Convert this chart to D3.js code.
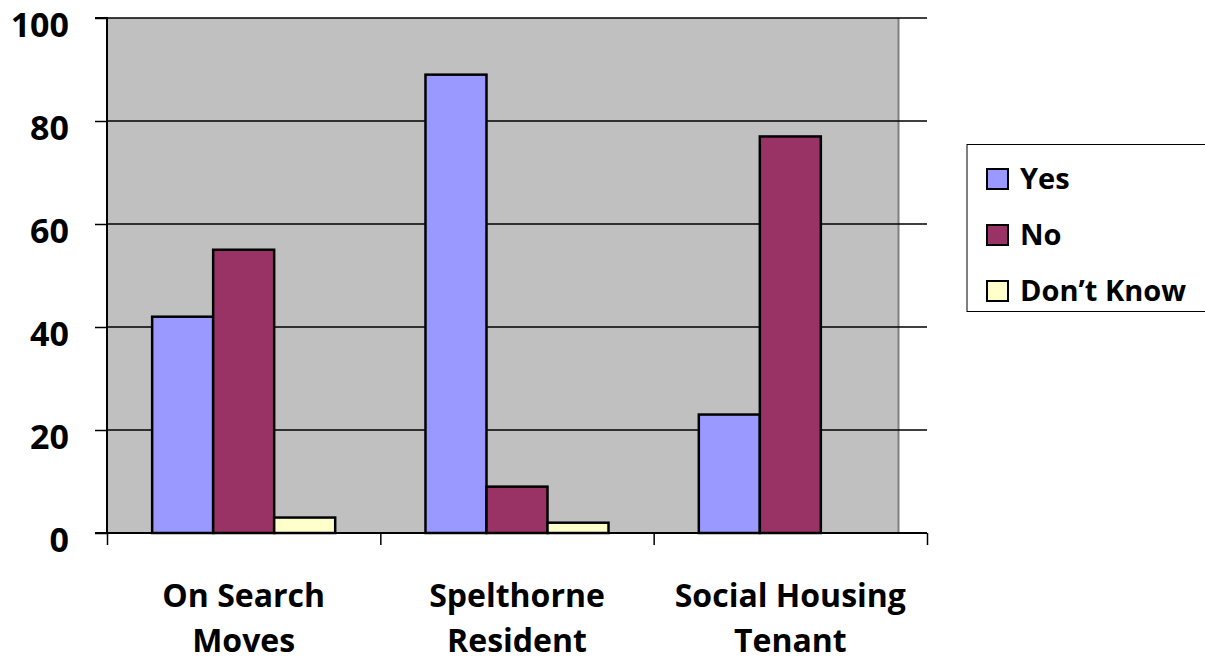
<!DOCTYPE html>
<html><head><meta charset="utf-8">
<script src="https://cdn.jsdelivr.net/npm/d3@7"></script>
<style>body{margin:0;background:#fff}svg{display:block}</style>
</head><body>
<svg id="c" width="1205" height="660"></svg>
<script>
const categories = [["On Search","Moves"],["Spelthorne","Resident"],["Social Housing","Tenant"]];
const seriesNames = ["Yes","No","Don\u2019t Know"];
const seriesColors = ["#9999FF","#993366","#FFFFCC"];
const yesValues = [42, 89, 23];
const noValues = [55, 9, 77];
const dkValues = [3, 2, 0];
const yTicks = [0,20,40,60,80,100];

const series = [yesValues, noValues, dkValues];
const svg = d3.select("#c");
const font = "'Open Sans', sans-serif";
const x0 = 107, x1 = 927, yTop = 18, yBot = 533;
const x = d3.scaleBand().domain(d3.range(categories.length)).range([x0, x1]).paddingInner(0).paddingOuter(0);
const xs = d3.scaleBand().domain(d3.range(series.length)).range([0, x.bandwidth()]).paddingOuter(0.74).paddingInner(0);
const y = d3.scaleLinear().domain([0,100]).range([yBot, yTop]);

// plot area
svg.append("rect").attr("x", x0).attr("y", yTop).attr("width", 899 - x0).attr("height", yBot - yTop).attr("fill", "#C0C0C0");
svg.append("line").attr("x1", 898.5).attr("x2", 898.5).attr("y1", yTop).attr("y2", yBot).attr("stroke", "#808080").attr("stroke-width", 2);

// gridlines
svg.append("g").selectAll("line").data(yTicks.filter(d => d > 0)).join("line")
  .attr("x1", x0).attr("x2", x1).attr("y1", d => y(d)).attr("y2", d => y(d))
  .attr("stroke", "#000").attr("stroke-width", 1.3);

// bars
series.forEach((vals, si) => {
  svg.append("g").selectAll("rect").data(vals).join("rect")
    .attr("x", (d, i) => x(i) + xs(si))
    .attr("y", d => y(d))
    .attr("width", xs.bandwidth())
    .attr("height", d => yBot - y(d))
    .attr("fill", seriesColors[si])
    .attr("stroke", "#000").attr("stroke-width", 2.5);
});

// y axis
const yAxis = d3.axisLeft(y).tickValues(yTicks).tickSize(12).tickPadding(25).tickFormat(d3.format("d"));
const gy = svg.append("g").attr("transform", `translate(${x0},0)`).call(yAxis);
gy.select(".domain").attr("stroke", "#000").attr("stroke-width", 2).attr("d", `M-12,${yTop}H0V${yBot}H-12`);
gy.selectAll(".tick line").attr("stroke", "#000").attr("stroke-width", 1.5);
gy.selectAll(".tick text").attr("font-family", font).attr("font-weight", "bold").attr("font-size", 34).attr("fill", "#000").attr("dy", "0.53em").attr("dx", -1);

// x axis
const xAxis = d3.axisBottom(d3.scaleLinear().domain([0,3]).range([x0,x1])).tickValues([0,1,2,3]).tickSize(12).tickFormat("");
const gx = svg.append("g").attr("transform", `translate(0,${yBot})`).call(xAxis);
gx.select(".domain").attr("stroke", "#000").attr("stroke-width", 2).attr("d", `M${x0},0H${x1}`);
gx.selectAll(".tick line").attr("stroke", "#000").attr("stroke-width", 1.5);

// category labels
const lab = svg.append("g").selectAll("text").data(categories).join("text")
  .attr("x", (d, i) => x(i) + x.bandwidth() / 2)
  .attr("y", 607)
  .attr("text-anchor", "middle")
  .attr("font-family", font).attr("font-weight", "bold").attr("font-size", 32).attr("fill", "#000");
lab.selectAll("tspan").data(d => d).join("tspan")
  .attr("x", function() { return d3.select(this.parentNode).attr("x"); })
  .attr("dy", (d, i) => i === 0 ? 0 : 45)
  .text(d => d);

// legend
const lg = svg.append("g");
lg.append("rect").attr("x", 967).attr("y", 144.5).attr("width", 250).attr("height", 167).attr("fill", "#fff").attr("stroke", "#000").attr("stroke-width", 1);
const items = lg.selectAll("g.item").data(seriesNames).join("g").attr("class", "item")
  .attr("transform", (d, i) => `translate(0,${i * 56})`);
items.append("rect").attr("x", 987).attr("y", 169).attr("width", 21).attr("height", 20)
  .attr("fill", (d, i) => seriesColors[i]).attr("stroke", "#000").attr("stroke-width", 2);
items.append("text").attr("x", 1020).attr("y", 189).text(d => d)
  .attr("font-family", font).attr("font-weight", "bold").attr("font-size", 29).attr("fill", "#000");
</script>
</body></html>
